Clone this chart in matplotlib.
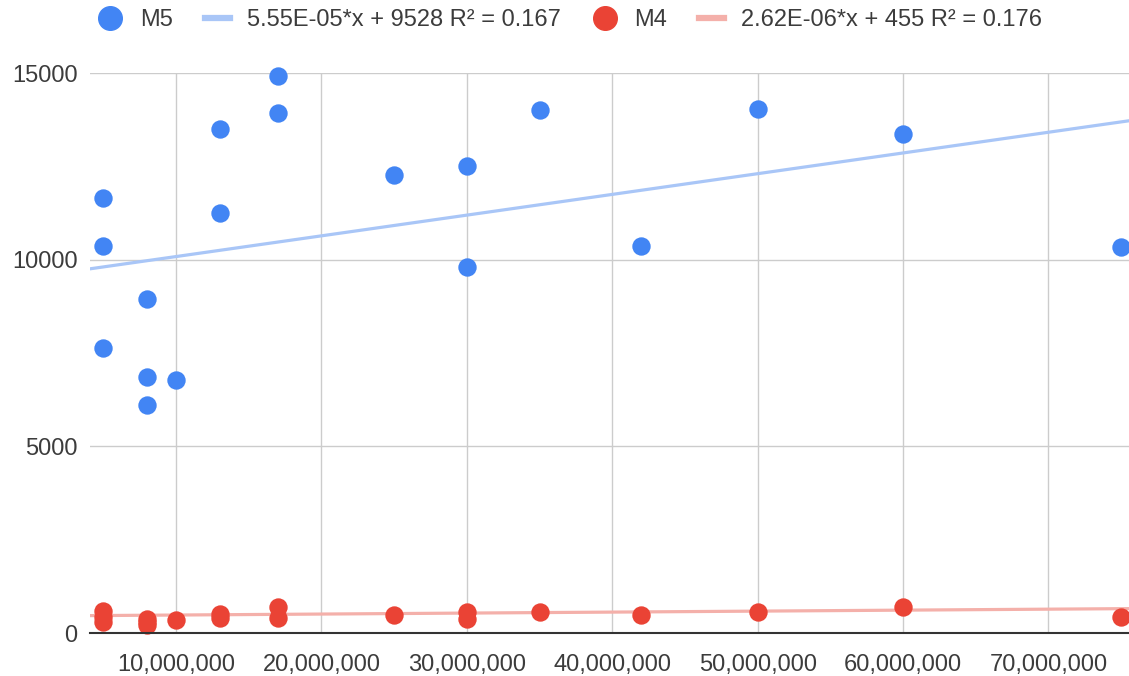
import numpy as np
import matplotlib
matplotlib.use('Agg')
import matplotlib.pyplot as plt
from matplotlib.ticker import FuncFormatter
from matplotlib.lines import Line2D

# data
m5_x = [5e6, 5e6, 5e6, 8e6, 8e6, 8e6, 10e6, 13e6, 13e6, 17e6, 17e6,
        25e6, 30e6, 30e6, 35e6, 42e6, 50e6, 60e6, 75e6]
m5_y = [11640, 10370, 7630, 8950, 6860, 6100, 6780, 13490, 11260, 14920, 13920,
        12280, 12520, 9810, 14000, 10370, 14030, 13360, 10350]

m4_x = [5e6, 5e6, 5e6, 8e6, 8e6, 8e6, 10e6, 13e6, 13e6, 17e6, 17e6,
        25e6, 30e6, 30e6, 35e6, 42e6, 50e6, 60e6, 75e6]
m4_y = [580, 440, 300, 380, 300, 220, 350, 520, 400, 700, 400,
        480, 550, 370, 560, 480, 560, 700, 430]

# trendline coefficients as shown in the legend
m5_slope, m5_icpt, m5_r2 = 5.55e-05, 9528, 0.167
m4_slope, m4_icpt, m4_r2 = 2.62e-06, 455, 0.176

blue = '#4285F4'
red = '#EA4335'
blue_tl = '#A9C6F7'
red_tl = '#F4B0AA'
txt = '#3c3c3c'

plt.rcParams['font.family'] = ['Liberation Sans', 'DejaVu Sans']

fig = plt.figure(figsize=(11.29, 6.76), dpi=100)
ax = fig.add_axes([90 / 1129, 43 / 676, 1 - 90 / 1129, 560 / 676])

xmin, xmax = 4.085e6, 75.54e6
xs = np.array([xmin, xmax])
ax.plot(xs, m5_slope * xs + m5_icpt, color=blue_tl, lw=2.3, zorder=2)
ax.plot(xs, m4_slope * xs + m4_icpt, color=red_tl, lw=2.3, zorder=2)
ax.scatter(m5_x, m5_y, s=175, color=blue, zorder=3, clip_on=False, linewidths=0)
ax.scatter(m4_x, m4_y, s=175, color=red, zorder=3, clip_on=False, linewidths=0)

ax.set_xlim(xmin, xmax)
ax.set_ylim(0, 15000)
ax.set_xticks([1e7, 2e7, 3e7, 4e7, 5e7, 6e7, 7e7])
ax.set_yticks([0, 5000, 10000, 15000])
ax.xaxis.set_major_formatter(FuncFormatter(lambda v, p: f'{int(v):,}'))
ax.tick_params(length=0, labelsize=17, labelcolor=txt)
ax.tick_params(axis='x', pad=15)
ax.tick_params(axis='y', pad=9)
ax.grid(True, color='#cccccc', lw=1)
ax.set_axisbelow(True)
for s in ['top', 'right', 'left']:
    ax.spines[s].set_visible(False)
ax.spines['bottom'].set_color('#333333')
ax.spines['bottom'].set_linewidth(1.5)
ax.spines['bottom'].set_zorder(4)

handles = [
    Line2D([], [], ls='none', marker='o', ms=17, color=blue),
    Line2D([], [], color=blue_tl, lw=4.5),
    Line2D([], [], ls='none', marker='o', ms=17, color=red),
    Line2D([], [], color=red_tl, lw=4.5),
]
labels = [
    'M5', f'5.55E-05*x + {m5_icpt} R\u00b2 = {m5_r2}',
    'M4', f'2.62E-06*x + {m4_icpt} R\u00b2 = {m4_r2}',
]
fig.legend(handles, labels, loc='center', bbox_to_anchor=(0.505, 0.97), ncol=4,
           frameon=False, fontsize=17, handlelength=1.06, columnspacing=1.35,
           handletextpad=0.72, labelcolor=txt)

fig.savefig('out.png', dpi=100)
